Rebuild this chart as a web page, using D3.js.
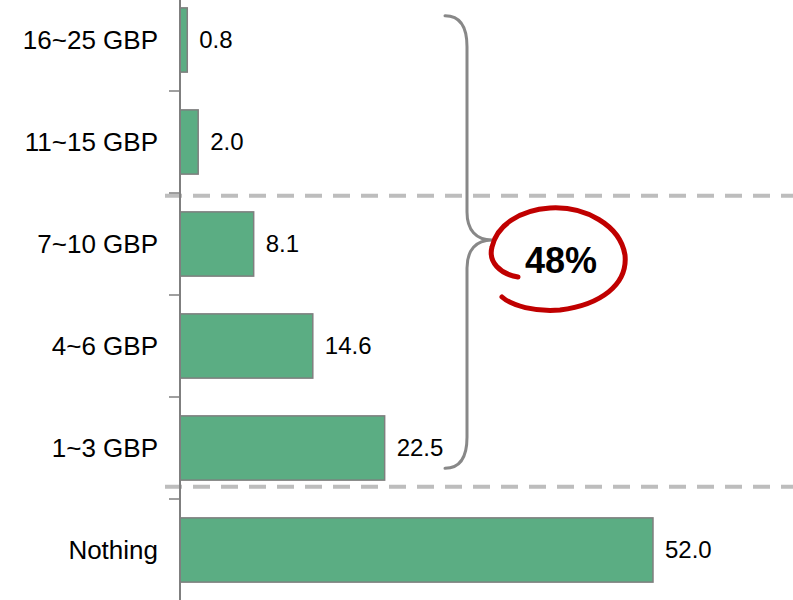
<!DOCTYPE html>
<html lang="en">
<head>
    <meta charset="UTF-8">
    <title>Spending bar chart</title>
    <script src="https://cdn.jsdelivr.net/npm/d3@7"></script>
    <style>
        body { margin: 0; background: #fff; font-family: "Liberation Sans", Arial, sans-serif; }
    </style>
</head>
<body>
<div id="chart"></div>
<script>
    // categories top to bottom and their values (%)
    var categories = ["16~25 GBP", "11~15 GBP", "7~10 GBP", "4~6 GBP", "1~3 GBP", "Nothing"];
    var values = [0.8, 2.0, 8.1, 14.6, 22.5, 52.0];
    var valueLabels = ["0.8", "2.0", "8.1", "14.6", "22.5", "52.0"];
    var braceText = "48%";

    var width = 793, height = 600;
    var left = 180;

    var svg = d3.select("#chart").append("svg")
        .attr("width", width)
        .attr("height", height);

    var x = d3.scaleLinear().domain([0, 52]).range([left, 653]);
    var y = d3.scaleBand().domain(categories).range([-11, 601])
        .paddingInner(0.37).paddingOuter(0.185);

    var data = categories.map((c, i) => ({ cat: c, value: values[i], label: valueLabels[i] }));
    var gap = y.step() * y.paddingInner() / 2;

    // dashed separators
    var seps = [y("7~10 GBP") - 16, y("Nothing") - 31];
    svg.selectAll(".sep").data(seps).enter().append("line")
        .attr("x1", 165).attr("x2", width)
        .attr("y1", d => d).attr("y2", d => d)
        .attr("stroke", "#bdbdbd")
        .attr("stroke-width", 4)
        .attr("stroke-dasharray", "17,11");

    // bars
    svg.selectAll(".bar").data(data).enter().append("rect")
        .attr("x", x(0))
        .attr("y", d => y(d.cat))
        .attr("width", d => x(d.value) - x(0))
        .attr("height", y.bandwidth())
        .attr("fill", "#5bad83")
        .attr("stroke", "#7f7f7f")
        .attr("stroke-width", 1.5);

    // value labels
    svg.selectAll(".val").data(data).enter().append("text")
        .attr("x", d => x(d.value) + 12)
        .attr("y", d => y(d.cat) + y.bandwidth() / 2)
        .attr("dy", "0.35em")
        .style("font-size", "24px")
        .style("fill", "#000")
        .text(d => d.label);

    // category labels
    svg.selectAll(".cat").data(data).enter().append("text")
        .attr("x", 158)
        .attr("y", d => y(d.cat) + y.bandwidth() / 2)
        .attr("dy", "0.35em")
        .attr("text-anchor", "end")
        .style("font-size", "26px")
        .style("fill", "#000")
        .text(d => d.cat);

    // axis line and ticks between bands
    svg.append("line")
        .attr("x1", left).attr("x2", left)
        .attr("y1", 0).attr("y2", height)
        .attr("stroke", "#7f7f7f").attr("stroke-width", 2);

    var tickYs = categories.map(c => y(c) + y.bandwidth() + gap);
    svg.selectAll(".tick").data(tickYs).enter().append("line")
        .attr("x1", 169).attr("x2", left)
        .attr("y1", d => d).attr("y2", d => d)
        .attr("stroke", "#7f7f7f").attr("stroke-width", 1.5);

    // curly brace spanning the paid categories
    var bTop = y("16~25 GBP") + 8, bBot = y("1~3 GBP") + y.bandwidth() - 12;
    var bx = 445, vx = 467, tipX = 492, tipY = 240;
    var brace = `M${bx},${bTop} C${bx + 17},${bTop} ${vx},${bTop + 14} ${vx},${bTop + 31}
        L${vx},${tipY - 28} C${vx},${tipY - 10} ${vx + 9},${tipY} ${tipX},${tipY}
        C${vx + 9},${tipY} ${vx},${tipY + 10} ${vx},${tipY + 28}
        L${vx},${bBot - 31} C${vx},${bBot - 14} ${bx + 17},${bBot} ${bx},${bBot}`;
    svg.append("path")
        .attr("d", brace)
        .attr("fill", "none")
        .attr("stroke", "#888")
        .attr("stroke-width", 3)
        .attr("stroke-linecap", "round");

    // hand drawn red loop
    svg.append("path")
        .attr("d", "M518,277 C500,274 488,262 492,247 C497,225 520,210 550,208 C585,206 620,225 625,255 C628,285 600,305 560,310 C535,312 512,306 502,297")
        .attr("fill", "none")
        .attr("stroke", "#c00000")
        .attr("stroke-width", 5)
        .attr("stroke-linecap", "round");

    svg.append("text")
        .attr("x", 561)
        .attr("y", 273)
        .attr("text-anchor", "middle")
        .style("font-size", "36px")
        .style("font-weight", "bold")
        .style("fill", "#000")
        .text(braceText);
</script>
</body>
</html>
